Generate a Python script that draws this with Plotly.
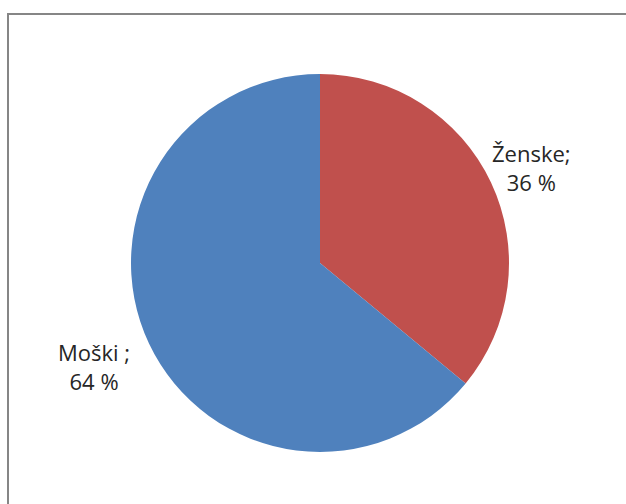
import plotly.graph_objects as go

# Share of respondents by gender
labels = ["Ženske", "Moški"]
shares = [36, 64]
colors = ["#C0504D", "#4F81BD"]
label_sep = [";", " ;"]

W, H = 626, 504

fig = go.Figure(
    go.Pie(
        labels=labels,
        values=shares,
        sort=False,
        direction="clockwise",
        rotation=0,
        marker=dict(colors=colors, line=dict(width=0)),
        textinfo="none",
        hoverinfo="label+percent",
        showlegend=False,
        domain=dict(x=[131 / W, 509 / W], y=[1 - 452 / H, 1 - 74 / H]),
    )
)

# Data labels placed beside each slice
label_pos = [(531, 168), (94, 366)]
for name, val, sep, (px, py) in zip(labels, shares, label_sep, label_pos):
    fig.add_annotation(
        x=px / W, y=1 - py / H, xref="paper", yref="paper",
        xanchor="center", yanchor="middle",
        text=f"{name}{sep}<br>{val} %",
        showarrow=False, align="center",
        font=dict(family="Open Sans, Liberation Sans, sans-serif", size=22, color="#262626"),
    )

# Chart-area frame
fig.add_shape(
    type="rect", xref="paper", yref="paper",
    x0=8 / W, x1=1.05, y0=-0.05, y1=1 - 14 / H,
    line=dict(color="#868686", width=2), fillcolor="rgba(0,0,0,0)",
)

fig.update_layout(
    width=W, height=H,
    margin=dict(l=0, r=0, t=0, b=0),
    paper_bgcolor="white", plot_bgcolor="white",
)

fig.write_html("out.html")
